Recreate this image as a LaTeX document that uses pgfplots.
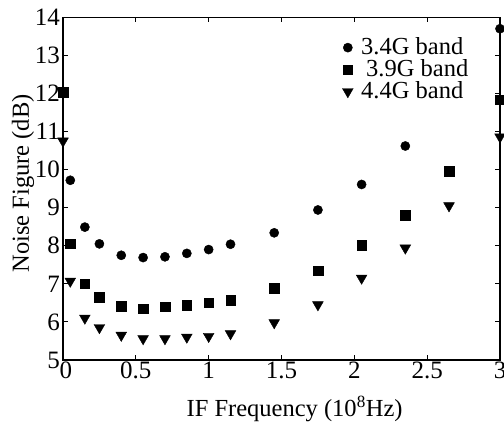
\documentclass[border=0pt]{standalone}
\usepackage{fontspec}
\setmainfont{Liberation Serif}
\usepackage{pgfplots}
\pgfplotsset{compat=1.18}
\begin{document}
\begin{tikzpicture}
\begin{axis}[
  scale only axis,
  width=437pt, height=342.7pt,
  xmin=0, xmax=3, ymin=5, ymax=14,
  xtick={0,0.5,1,1.5,2,2.5,3},
  ytick={5,6,7,8,9,10,11,12,13,14},
  xticklabels={\hspace*{6pt}0,0.5,1,1.5,2,2.5,3},
  /pgf/number format/assume math mode=true,
  tick label style={font=\fontsize{25}{29}\selectfont},
  xticklabel style={inner sep=1.5pt},
  yticklabel style={inner sep=3pt},
  tick align=inside,
  major tick length=5pt,
  every tick/.style={black, line width=0.9pt},
  axis line style={line width=1.1pt},
  xlabel={IF Frequency (10\textsuperscript{8}Hz)},
  ylabel={Noise Figure (dB)},
  label style={font=\fontsize{24.5}{28}\selectfont},
  xlabel style={at={(axis description cs:0.53,-0.166)}, anchor=base},
  ylabel style={at={(axis description cs:-0.078,0.515)}, anchor=base},
  legend style={draw=none, fill=none, at={(0.937,0.95)}, anchor=north east,
    font=\fontsize{24.5}{28}\selectfont, row sep=0pt, column sep=7pt,
    nodes={inner sep=1pt, text height=17pt, text depth=3pt}},
  legend cell align=left,
]
\addplot[only marks, mark=*, black, mark size=4.6pt] coordinates {
(0.05,9.72) (0.15,8.49) (0.25,8.05) (0.4,7.75) (0.55,7.69) (0.7,7.71)
(0.85,7.8) (1.0,7.9) (1.15,8.04) (1.45,8.34) (1.75,8.94) (2.05,9.61)
(2.35,10.62) (3.0,13.7)};
\addlegendentry{3.4G band}
\addplot[only marks, mark=square*, black, mark size=4.8pt] coordinates {
(0,12.03) (0.05,8.05) (0.15,7.0) (0.25,6.65) (0.4,6.42) (0.55,6.35)
(0.7,6.40) (0.85,6.44) (1.0,6.50) (1.15,6.57) (1.45,6.89) (1.75,7.34)
(2.05,8.01) (2.35,8.80) (2.65,9.96) (3.0,11.84)};
\addlegendentry{\hspace{5pt}3.9G band}
\addplot[only marks, mark=triangle*, mark options={rotate=180}, black, mark size=6.2pt] coordinates {
(0,10.75) (0.05,7.07) (0.15,6.10) (0.25,5.85) (0.4,5.65) (0.55,5.56)
(0.7,5.56) (0.85,5.60) (1.0,5.62) (1.15,5.69) (1.45,5.98) (1.75,6.45)
(2.05,7.15) (2.35,7.94) (2.65,9.05) (3.0,10.86)};
\addlegendentry{4.4G band}
\coordinate (ll) at (axis cs:0,5);
\coordinate (ur) at (axis cs:3,14);
\end{axis}
\pgfresetboundingbox
\path ([xshift=-63pt,yshift=-64pt]ll) rectangle ([xshift=4pt,yshift=17.3pt]ur);
\end{tikzpicture}
\end{document}
